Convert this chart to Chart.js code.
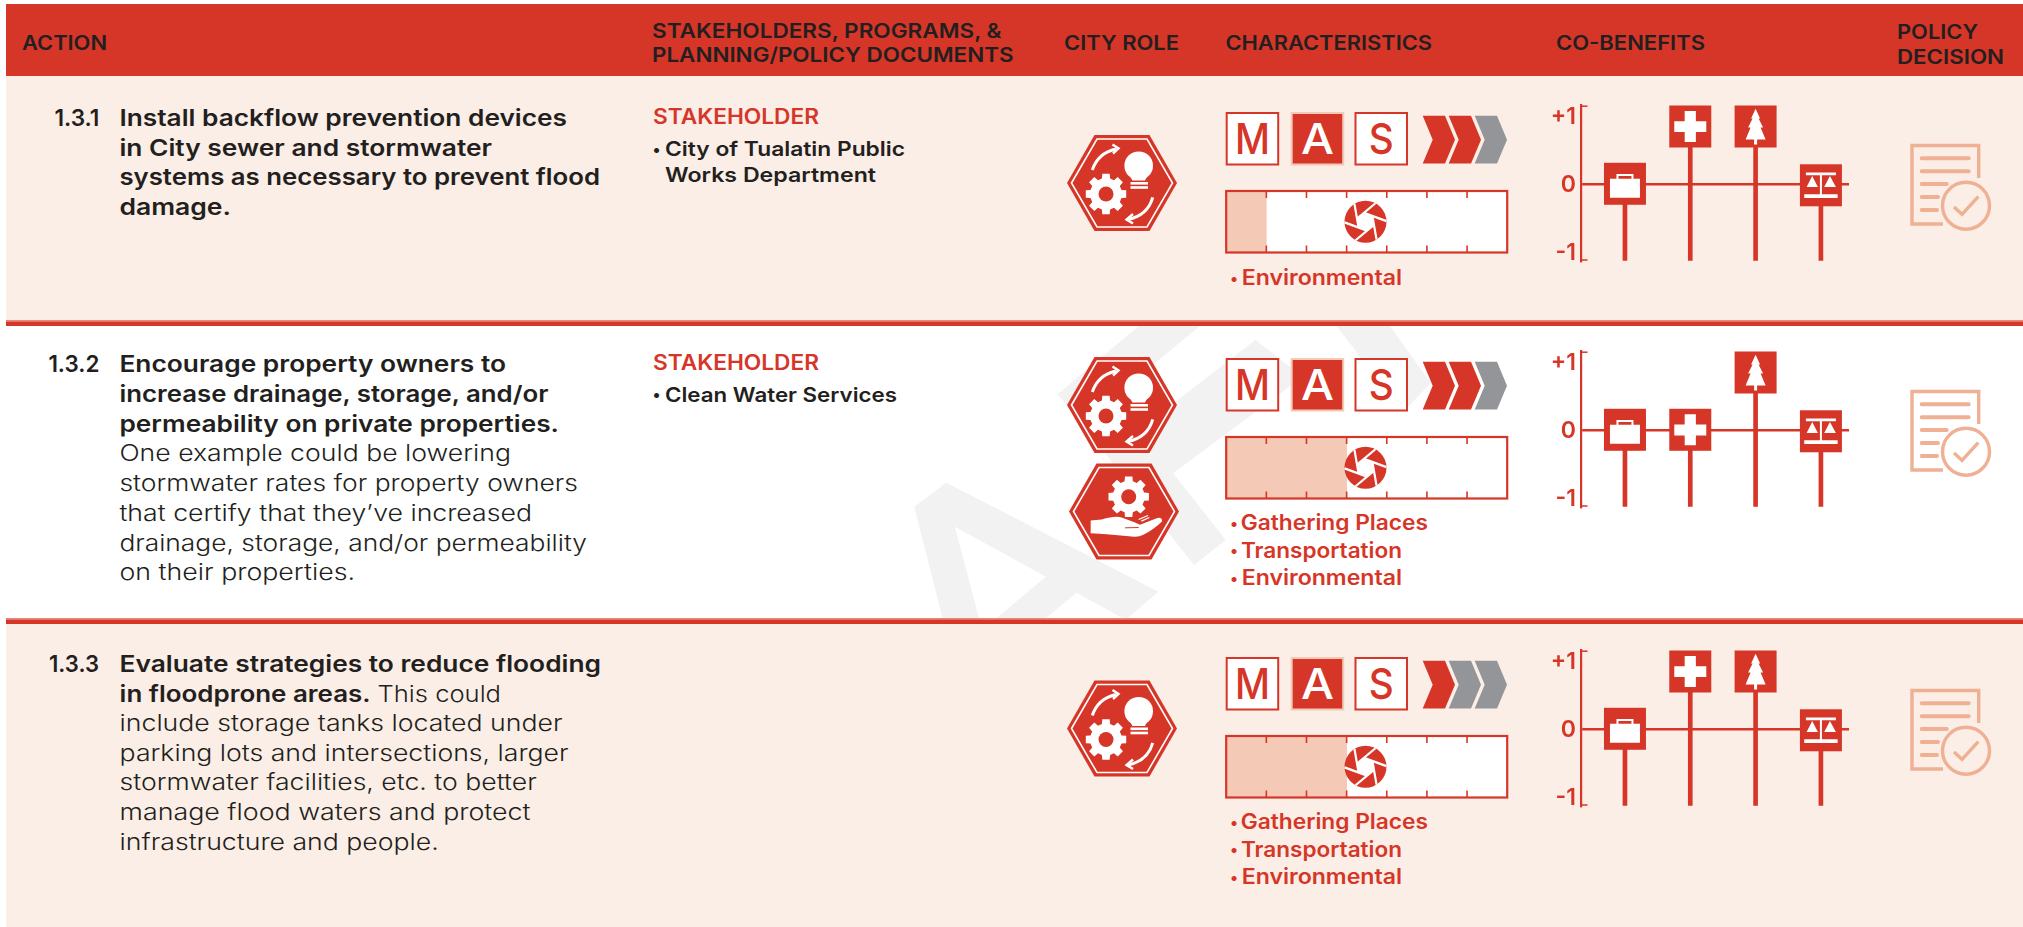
<!DOCTYPE html>
<html>
<head>
<meta charset="utf-8">
<title>Action table 1.3</title>
<script src="https://cdn.jsdelivr.net/npm/chart.js@4"></script>
<style>
  html, body { margin: 0; padding: 0; background: #fff; overflow: hidden; }
  #page { position: relative; width: 2023px; height: 927px; overflow: hidden; }
  #page svg { position: absolute; left: 0; top: 0; }
  #page canvas { position: absolute; }
  text { font-family: Inter, "Noto Sans", sans-serif; fill: #231f20; }
  .head { font-size: 20px; font-weight: 600; }
  .act { font-size: 22.7px; font-weight: 600; }
  .reg { font-size: 22.7px; font-weight: 350; }
  .stk { font-size: 20.3px; font-weight: 600; }
  .sdot { font-size: 16px; font-weight: 600; }
  .red { font-size: 20.8px; font-weight: 600; fill: #d63627; }
  .rdot { font-size: 16px; font-weight: 600; fill: #d63627; }
  .mas { font-size: 43px; font-weight: 500; fill: #d63627; text-anchor: middle; }
</style>
</head>
<body>
<div id="page"><svg id="art" width="2023" height="927" xmlns="http://www.w3.org/2000/svg"></svg></div>
<script>
// co-benefit values, one per icon, on the -1..+1 axis
const benefitLabels = ["Economic", "Health", "Environmental", "Equity"];
const benefitTickValues = [-1, 0, 1];
const benefitTickLabels = ["-1", "0", "+1"];
const row1Benefits = [0, 1, 1, 0];
const row2Benefits = [0, 0, 1, 0];
const row3Benefits = [0, 1, 1, 0];

// characteristics bar, filled segments out of seven
const segmentCount = 7;
const row1Segments = [1];
const row2Segments = [3];
const row3Segments = [3];

// red chevrons out of three
const chevronTotal = 3;
const row1Chevrons = 2;
const row2Chevrons = 2;
const row3Chevrons = 1;

const RED = "#d63627";
const PALE = "#f4c9b6";
const ROW_BG = "#fbeee6";
const GREY = "#939598";
const ICON = "#efb093";
const rowShift = [0, 246, 545];

// x, baseline, width (0 = natural), text, class
const textLines = [
  [22, 50, 85, "ACTION", "head"],
  [652, 38, 349.5, "STAKEHOLDERS, PROGRAMS, &", "head"],
  [652, 62, 361.5, "PLANNING/POLICY DOCUMENTS", "head"],
  [1064, 50, 115, "CITY ROLE", "head"],
  [1225.5, 50, 206.5, "CHARACTERISTICS", "head"],
  [1556, 50, 149, "CO-BENEFITS", "head"],
  [1897, 38.7, 81, "POLICY", "head"],
  [1897, 63.7, 107, "DECISION", "head"],

  [54.4, 126, 45, "1.3.1", "act"],
  [119.4, 126, 447.6, "Install backflow prevention devices", "act"],
  [119.4, 155.5, 372.6, "in City sewer and stormwater", "act"],
  [119.4, 185, 480.6, "systems as necessary to prevent flood", "act"],
  [119.4, 214.5, 111.6, "damage.", "act"],
  [653, 124, 166, "STAKEHOLDER", "red"],
  [652.5, 154.5, 0, "•", "sdot"],
  [665, 156, 240, "City of Tualatin Public", "stk"],
  [665, 182, 211, "Works Department", "stk"],
  [1230, 283.5, 0, "•", "rdot"],
  [1241.7, 285, 160.3, "Environmental", "red"],

  [48.4, 372, 51, "1.3.2", "act"],
  [119.4, 372, 386.6, "Encourage property owners to", "act"],
  [119.4, 401.8, 429, "increase drainage, storage, and/or", "act"],
  [119.4, 431.5, 439.6, "permeability on private properties.", "act"],
  [119.4, 461.3, 391.6, "One example could be lowering", "reg"],
  [119.4, 491, 458.6, "stormwater rates for property owners", "reg"],
  [119.4, 520.8, 412.6, "that certify that they’ve increased", "reg"],
  [119.4, 550.5, 467.6, "drainage, storage, and/or permeability", "reg"],
  [119.4, 580.3, 235.6, "on their properties.", "reg"],
  [653, 370, 166, "STAKEHOLDER", "red"],
  [652.5, 400.2, 0, "•", "sdot"],
  [665, 401.7, 232, "Clean Water Services", "stk"],
  [1230, 528.5, 0, "•", "rdot"],
  [1240.7, 530, 187.3, "Gathering Places", "red"],
  [1230, 556.2, 0, "•", "rdot"],
  [1241, 557.7, 161, "Transportation", "red"],
  [1230, 583.5, 0, "•", "rdot"],
  [1241.7, 585, 160.3, "Environmental", "red"],

  [49, 672, 50, "1.3.3", "act"],
  [119.6, 672, 481.4, "Evaluate strategies to reduce flooding", "act"],
  [119.6, 701.6, 251, "in floodprone areas.", "act"],
  [377.5, 701.6, 123.5, "This could", "reg"],
  [119.6, 731.2, 442.9, "include storage tanks located under", "reg"],
  [119.6, 760.8, 449, "parking lots and intersections, larger", "reg"],
  [119.6, 790.4, 417.1, "stormwater facilities, etc. to better", "reg"],
  [119.6, 820, 411, "manage flood waters and protect", "reg"],
  [119.6, 849.6, 319.2, "infrastructure and people.", "reg"],
  [1230, 827.5, 0, "•", "rdot"],
  [1240.7, 829, 187.3, "Gathering Places", "red"],
  [1230, 855.2, 0, "•", "rdot"],
  [1241, 856.7, 161, "Transportation", "red"],
  [1230, 882.5, 0, "•", "rdot"],
  [1241.7, 884, 160.3, "Environmental", "red"]
];

function gearPath(cx, cy, R) {
  const teeth = 8, root = R * 0.78;
  let pts = [];
  for (let i = 0; i < teeth; i++) {
    const a = i * Math.PI * 2 / teeth;
    pts.push([root, a - 0.26], [R, a - 0.18], [R, a + 0.18], [root, a + 0.26]);
  }
  return "M" + pts.map(p => (cx + p[0] * Math.cos(p[1])).toFixed(1) + " " + (cy + p[0] * Math.sin(p[1])).toFixed(1)).join("L") + "Z";
}

const hexShell = `<polygon points="-55,0 -27.5,-48 27.5,-48 55,0 27.5,48 -27.5,48" fill="${RED}"/>
  <polygon points="-50.5,0 -25,-44 25,-44 50.5,0 25,44 -25,44" fill="none" stroke="#fff" stroke-width="1.6"/>`;

function hexIdea(cx, cy) {
  return `<g transform="translate(${cx} ${cy})">${hexShell}
    <path d="${gearPath(-16, 11, 20.5)}" fill="#fff"/><circle cx="-16" cy="11" r="7.5" fill="${RED}"/>
    <circle cx="16.7" cy="-17.3" r="14.3" fill="#fff"/>
    <polygon points="7,-9 26.4,-9 23,-2.4 10.4,-2.4" fill="#fff"/>
    <rect x="8.5" y="-1" width="17.5" height="2.6" fill="#fff"/><rect x="8.5" y="3.2" width="17.5" height="2.6" fill="#fff"/>
    <g fill="none" stroke="#fff" stroke-width="3">
      <path d="M-29.7 -13 Q-24 -30 -6 -34"/><path d="M-9.5 -38.5 L-3.5 -34.5 L-9 -29.5" stroke-width="2.4"/>
      <path d="M30.7 14.3 Q26 32 6 36.5"/><path d="M11 31 L4.5 36.5 L11 40.5" stroke-width="2.4"/>
    </g></g>`;
}

function hexHand(cx, cy) {
  return `<g transform="translate(${cx} ${cy})">${hexShell}
    <path d="${gearPath(4.7, -14.8, 20.5)}" fill="#fff"/><circle cx="4.7" cy="-14.8" r="7.5" fill="${RED}"/>
    <g transform="scale(0.3333) translate(-192 -170)">
      <path d="M92 197 L125 194 Q165 182 185 188 L225 203 Q235 207 240 210 L290 190 Q308 186 306 200 Q280 225 250 240 Q235 248 215 245 L140 238 L92 235 Z" fill="#fff"/>
      <path d="M195 219 L236 218" stroke="${RED}" stroke-width="3" fill="none"/>
      <path d="M236 194 L264 182 M244 199 L268 188" stroke="#fff" stroke-width="4" fill="none"/>
    </g></g>`;
}

const masWidths = { M: 35, A: 33, S: 25 };

function masBox(x, y, letter, on) {
  const fill = on ? RED : "#fff", stroke = on ? PALE : RED, ink = on ? "#fff" : RED;
  return `<rect x="${x + 1}" y="${y + 1}" width="51.5" height="51.5" fill="${fill}" stroke="${stroke}" stroke-width="2"/>
    <text class="mas" x="${x + 26.7}" y="${y + 42}" textLength="${masWidths[letter]}" lengthAdjust="spacingAndGlyphs" style="fill:${ink}">${letter}</text>`;
}

function chevrons(shift, red) {
  let out = "";
  for (let i = 0; i < chevronTotal; i++) {
    const x = 1422.7 + i * 26, y = 115.7 + shift;
    const pts = [[0, 0], [22.3, 0], [32.3, 24], [22.3, 47.7], [0, 47.7], [10, 24]];
    out += `<polygon points="${pts.map(p => (x + p[0]) + "," + (y + p[1])).join(" ")}" fill="${i < red ? RED : GREY}"/>`;
  }
  return out;
}

function policyIcon(s) {
  return `<g transform="translate(0 ${s})" fill="none" stroke="${ICON}">
    <path d="M1943 224 L1912 224 L1912 145.5 L1978.7 145.5 L1978.7 178" stroke-width="3.4"/>
    <path d="M1921.7 158.3 H1968.7 M1921.7 171.3 H1968.7 M1921.7 184 H1946.7 M1921.7 197 H1938 M1921.7 210 H1937" stroke-width="4" stroke-linecap="round"/>
    <circle cx="1966" cy="205.7" r="23.5" stroke-width="3.4"/>
    <path d="M1954 207 L1962 214.3 L1978.3 196.7" stroke-width="3.4"/></g>`;
}

function drawArt() {
  let s = "";
  s += `<rect x="6" y="4" width="2017" height="72" fill="${RED}"/>`;
  s += `<rect x="6" y="76" width="2017" height="245" fill="${ROW_BG}"/>`;
  s += `<rect x="6" y="624" width="2017" height="303" fill="${ROW_BG}"/>`;
  // DRAFT watermark, only shows through the white row
  s += `<clipPath id="rowClip"><rect x="0" y="326" width="2023" height="292"/></clipPath>
    <g clip-path="url(#rowClip)"><g transform="translate(860 320) scale(0.3954 0.3333)" fill="#f2f2f2">
      <path d="M137 560 L218 488 L755 815 L672 900 L548 818 L465 900 L340 900 L470 770 L240 620 L302 900 L210 900 Z"/>
      <path d="M500 222 L705 18 L860 18 L640 232 L705 330 L1000 60 L1120 170 L792 460 L925 660 L845 735 Z"/>
      <path d="M1205 18 L1340 18 L1444 189 L1373 276 Z"/>
    </g></g>`;
  s += `<rect x="6" y="320" width="2017" height="1.4" fill="#e9877b"/><rect x="6" y="321.4" width="2017" height="4.6" fill="${RED}"/>`;
  s += `<rect x="6" y="618" width="2017" height="1.4" fill="#e9877b"/><rect x="6" y="619.4" width="2017" height="4.6" fill="${RED}"/>`;

  s += hexIdea(1122, 183) + hexIdea(1122, 405) + hexHand(1124, 511.5) + hexIdea(1122, 728.5);

  const red = [row1Chevrons, row2Chevrons, row3Chevrons];
  rowShift.forEach((dy, i) => {
    s += masBox(1225.7, 112 + dy, "M", false) + masBox(1290.7, 112 + dy, "A", true) + masBox(1354.5, 112 + dy, "S", false);
    s += chevrons(dy, red[i]);
    s += policyIcon(dy);
  });

  textLines.forEach(l => {
    const fit = l[2] ? `textLength="${l[2]}" lengthAdjust="spacingAndGlyphs"` : "";
    s += `<text class="${l[4]}" x="${l[0]}" y="${l[1]}" ${fit}>${l[3].replace(/&/g, "&amp;")}</text>`;
  });
  document.getElementById("art").innerHTML = s;
}

// white icons on the co-benefit markers, centred on 0,0
const markerIcons = {
  Economic: "M-15 -5 H15 V14 H-15 Z M-8.5 -5 V-9.8 H8.5 V-5 H6.5 V-7.8 H-6.5 V-5 Z",
  Health: "M-5.6 -15.5 H5.6 V-5.3 H16 V5.6 H5.6 V15.5 H-5.6 V5.6 H-16 V-5.3 H-5.6 Z",
  Environmental: "M0 -17.7 L4.5 -8 L3 -8 L7.5 1 L5 1 L10 13 L1.5 13 L1.5 18 L-1.5 18 L-1.5 13 L-10 13 L-5 1 L-7.5 1 L-3 -8 L-4.5 -8 Z",
  Equity: "M-15 -12.7 H15 V-10 H1 V9 H16.7 V12.7 H-16.7 V9 H-1 V-10 H-15 Z M-8.7 -9.3 L-3 1.7 H-14.3 Z M9 -9.3 L15 1.7 H3.3 Z"
};
const markerNudge = { Economic: 0, Health: 0, Environmental: 0, Equity: 1.5 };

const markerPlugin = {
  id: "markers",
  afterDatasetsDraw(chart) {
    const { ctx, chartArea, scales } = chart;
    const size = 42;
    // bracket ends on the axis
    ctx.save();
    ctx.strokeStyle = RED;
    ctx.lineWidth = 1.5;
    [chartArea.top + 0.7, chartArea.bottom - 0.7].forEach(y => {
      ctx.beginPath();
      ctx.moveTo(chartArea.left, y);
      ctx.lineTo(chartArea.left + 6.5, y);
      ctx.stroke();
    });
    chart.data.datasets[0].data.forEach((pt, i) => {
      const name = benefitLabels[i];
      const cx = scales.x.getPixelForValue(pt.x);
      let top = scales.y.getPixelForValue(pt.y) - size / 2 + markerNudge[name];
      top = Math.max(chartArea.top, Math.min(top, chartArea.bottom - size));
      ctx.fillStyle = RED;
      ctx.fillRect(cx - size / 2, top, size, size);
      ctx.save();
      ctx.translate(cx, top + size / 2);
      ctx.fillStyle = "#fff";
      ctx.fill(new Path2D(markerIcons[name]), "evenodd");
      ctx.restore();
    });
    ctx.restore();
  }
};

const segmentPlugin = {
  id: "segments",
  afterDatasetsDraw(chart) {
    const { ctx, chartArea: a, scales } = chart;
    ctx.save();
    ctx.strokeStyle = RED;
    ctx.lineWidth = 1.6;
    for (let i = 1; i < segmentCount; i++) {
      const x = scales.x.getPixelForValue(i);
      ctx.beginPath();
      ctx.moveTo(x, a.top); ctx.lineTo(x, a.top + 7);
      ctx.moveTo(x, a.bottom); ctx.lineTo(x, a.bottom - 7);
      ctx.stroke();
    }
    ctx.lineWidth = 2.2;
    ctx.strokeRect(a.left, a.top, a.right - a.left, a.bottom - a.top);

    // shutter icon at the middle of the scale
    const cx = scales.x.getPixelForValue(segmentCount / 2) - 1.2, cy = (a.top + a.bottom) / 2;
    const r = 21, inner = 9;
    ctx.fillStyle = RED;
    ctx.beginPath();
    ctx.arc(cx, cy, r, 0, Math.PI * 2);
    ctx.fill();
    ctx.save();
    ctx.beginPath();
    ctx.arc(cx, cy, r + 0.5, 0, Math.PI * 2);
    ctx.clip();
    ctx.strokeStyle = "#fff";
    ctx.lineWidth = 2.2;
    ctx.fillStyle = "#fff";
    ctx.beginPath();
    for (let k = 0; k < 6; k++) {
      const a0 = (k * 60 + 20) * Math.PI / 180;
      const px = cx + inner * Math.cos(a0), py = cy + inner * Math.sin(a0);
      k ? ctx.lineTo(px, py) : ctx.moveTo(px, py);
    }
    ctx.closePath();
    ctx.fill();
    for (let k = 0; k < 6; k++) {
      const a0 = (k * 60 + 20) * Math.PI / 180, d = a0 + Math.PI * 2 / 3;
      const px = cx + inner * Math.cos(a0), py = cy + inner * Math.sin(a0);
      ctx.beginPath();
      ctx.moveTo(px, py);
      ctx.lineTo(px + 24 * Math.cos(d), py + 24 * Math.sin(d));
      ctx.stroke();
    }
    ctx.restore();
    ctx.restore();
  }
};

function addCanvas(left, top, width, height) {
  const c = document.createElement("canvas");
  c.width = width;
  c.height = height;
  c.style.cssText = `left:${left}px;top:${top}px;width:${width}px;height:${height}px`;
  document.getElementById("page").appendChild(c);
  return c.getContext("2d");
}

function drawBenefits(values, dy) {
  const axisMin = -1.13, axisMax = 1.15;
  new Chart(addCanvas(1545, 86 + dy, 304, 194), {
    type: "bar",
    data: {
      datasets: [{
        label: "Co-benefits",
        data: values.map((v, i) => ({ x: i + 1, y: v })),
        base: axisMin,
        backgroundColor: RED,
        barThickness: 4
      }]
    },
    options: {
      responsive: false,
      animation: false,
      layout: { padding: { top: 19.5, bottom: 19.3, left: 0, right: 0 } },
      plugins: { legend: { display: false }, tooltip: { enabled: false } },
      scales: {
        x: { type: "linear", min: 0.327, max: 4.43, offset: false, display: false },
        y: {
          min: axisMin,
          max: axisMax,
          afterBuildTicks(axis) { axis.ticks = benefitTickValues.map(v => ({ value: v })); },
          afterFit(axis) { axis.width = 36; },
          border: { display: true, color: RED, width: 2.2 },
          grid: {
            drawTicks: false,
            lineWidth: 2.4,
            color: ctx => ctx.tick && ctx.tick.value === 0 ? RED : "transparent"
          },
          ticks: {
            autoSkip: false,
            padding: 5,
            labelOffset: 1.5,
            color: RED,
            font: { family: "Inter", size: 23, weight: 600 },
            callback: v => benefitTickLabels[benefitTickValues.indexOf(v)]
          }
        }
      }
    },
    plugins: [markerPlugin]
  });
}

function drawSegments(filled, dy) {
  new Chart(addCanvas(1225, 189 + dy, 284, 65), {
    type: "bar",
    data: {
      labels: ["Characteristics"],
      datasets: [
        { label: "Covered", data: filled, backgroundColor: PALE, stack: "s" },
        { label: "Rest", data: filled.map(v => segmentCount - v), backgroundColor: "#fff", stack: "s" }
      ]
    },
    options: {
      indexAxis: "y",
      responsive: false,
      animation: false,
      layout: { padding: { left: 1.2, right: 1.8, top: 2, bottom: 1.5 } },
      plugins: { legend: { display: false }, tooltip: { enabled: false } },
      datasets: { bar: { barPercentage: 1, categoryPercentage: 1 } },
      scales: {
        x: { min: 0, max: segmentCount, stacked: true, display: false },
        y: { stacked: true, display: false }
      }
    },
    plugins: [segmentPlugin]
  });
}

drawArt();
drawBenefits(row1Benefits, rowShift[0]);
drawBenefits(row2Benefits, rowShift[1]);
drawBenefits(row3Benefits, rowShift[2]);
drawSegments(row1Segments, rowShift[0]);
drawSegments(row2Segments, rowShift[1]);
drawSegments(row3Segments, rowShift[2]);
</script>
</body>
</html>
